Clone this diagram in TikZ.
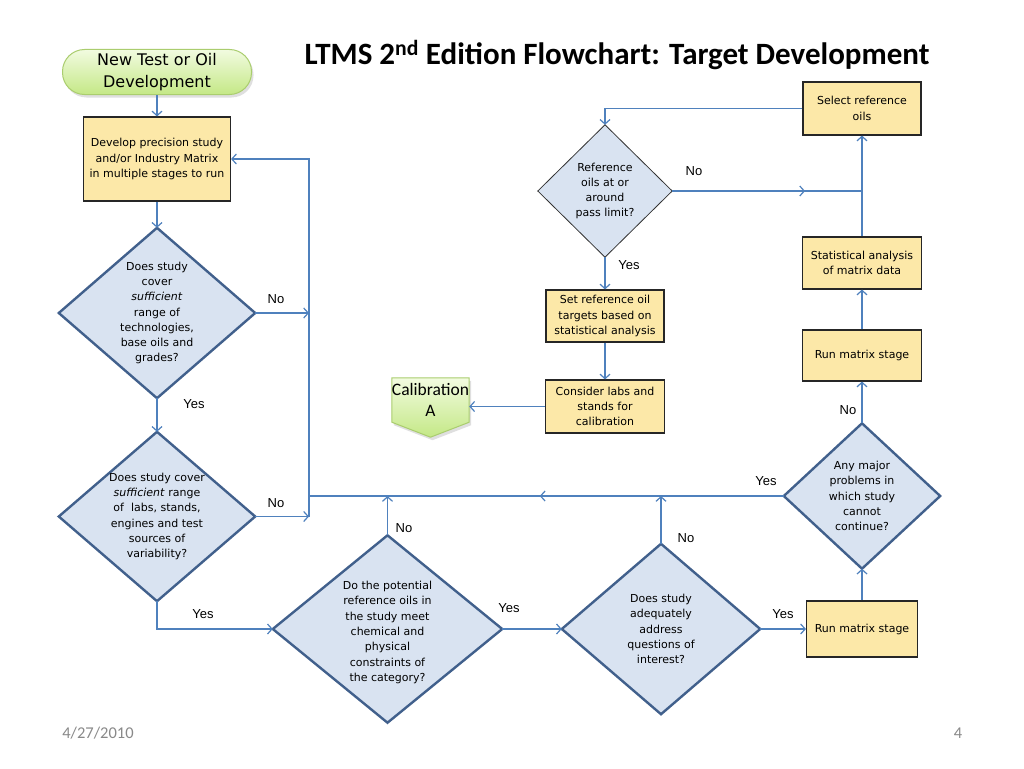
\documentclass[tikz,border=0pt]{standalone}
\usepackage{fontspec}
\setmainfont{DejaVu Sans}
\newfontfamily\labfont{Liberation Sans}
\newfontfamily\calfont{Carlito}
\usetikzlibrary{arrows.meta,backgrounds,decorations.markings,shadows,calc}
\definecolor{arr}{RGB}{79,129,189}
\definecolor{boxfill}{RGB}{252,232,168}
\definecolor{diafill}{RGB}{217,227,241}
\definecolor{diaedge}{RGB}{65,96,140}
\definecolor{greenedge}{RGB}{170,205,110}
\definecolor{greentop}{RGB}{242,251,224}
\definecolor{greenbot}{RGB}{196,232,134}
\definecolor{footgray}{RGB}{137,137,137}
\begin{document}
\begin{tikzpicture}[x=1pt,y=-1pt,
  txt/.style={font=\fontsize{11}{15.3}\selectfont, align=center, inner sep=0pt},
  procbox/.style={txt, draw=black!85, line width=1.1pt, fill=boxfill},
  dtext/.style={txt},
  lab/.style={font=\labfont\fontsize{13}{15}\selectfont, inner sep=0pt},
  flowline/.style={draw=arr, line width=1.2pt},
  flow/.style={flowline, -{Straight Barb[length=4.5pt,width=10pt]}},
  midarrow/.style={postaction={decorate}, decoration={markings,
     mark=at position #1 with {\arrow[arr,line width=1.2pt]{Straight Barb[length=4.5pt,width=10pt]}}}}
]
\useasboundingbox (0,0) rectangle (1024,768);

% title and footer
\node[inner sep=0pt] (title) at (617,55) {\calfont\bfseries\fontsize{31}{34}\selectfont LTMS 2\textsuperscript{nd} Edition Flowchart: Target Development};
\node[inner sep=0pt, text=footgray] (date) at (98,733) {\calfont\fontsize{16.5}{18}\selectfont 4/27/2010};
\node[inner sep=0pt, text=footgray] (page) at (958,733) {\calfont\fontsize{16.5}{18}\selectfont 4};

% start
\node[draw=greenedge, line width=1pt, top color=greentop, bottom color=greenbot,
      rounded corners=22pt, minimum width=189pt, minimum height=45pt, align=center, inner sep=0pt,
      font=\fontsize{16}{22.5}\selectfont,
      drop shadow={opacity=0.25, shadow xshift=2pt, shadow yshift=-3pt}] (start) at (157,72)
      {New Test or Oil\\Development};

% left column
\node[procbox, minimum width=147pt, minimum height=84pt] (box1) at (157,159)
  {Develop precision study\\and/or Industry Matrix\\in multiple stages to run};
\node[dtext, minimum width=196pt, minimum height=170pt] (d1) at (157,313)
  {Does study\\cover\\\textit{sufficient}\\range of\\technologies,\\base oils and\\grades?};
\node[dtext, minimum width=196pt, minimum height=169pt] (d2) at (157,516.5)
  {Does study cover\\\textit{sufficient} range\\of~~labs, stands,\\engines and test\\sources of\\variability?};

% bottom row
\node[dtext, minimum width=229pt, minimum height=187pt] (d3) at (387.5,629)
  {\\Do the potential\\reference oils in\\the study meet\\chemical and\\physical\\constraints of\\the category?};
\node[dtext, minimum width=198pt, minimum height=170pt] (d4) at (661,629)
  {Does study\\adequately\\address\\questions of\\interest?};
\node[procbox, minimum width=111pt, minimum height=56pt] (rms1) at (862,629) {Run matrix stage};

% right column
\node[dtext, minimum width=156pt, minimum height=145pt] (d5) at (862,496)
  {Any major\\problems in\\which study\\cannot\\continue?};
\node[procbox, minimum width=119pt, minimum height=51pt] (rms2) at (862,355.5) {Run matrix stage};
\node[procbox, minimum width=119pt, minimum height=52pt] (stat) at (862,263)
  {Statistical analysis\\of matrix data};
\node[procbox, minimum width=118pt, minimum height=53pt] (sel) at (862,108.5)
  {Select reference\\oils};

% middle column
\node[dtext, minimum width=134pt, minimum height=132pt] (d6) at (605,191)
  {Reference\\oils at or\\around\\pass limit?};
\node[procbox, minimum width=118pt, minimum height=52pt] (setref) at (605,316)
  {Set reference oil\\targets based on\\statistical analysis};
\node[procbox, minimum width=119pt, minimum height=53pt] (cons) at (605,406.5)
  {Consider labs and\\stands for\\calibration};
\node[align=center, inner sep=0pt, minimum width=77pt, minimum height=44pt,
      font=\calfont\fontsize{17.5}{21}\selectfont] (calib) at (430.5,400) {Calibration\\A};

% backgrounds: page, diamonds, off-page connector
\begin{scope}[on background layer]
  \fill[white] (0,0) rectangle (1024,768);
  \foreach \n in {d1,d2,d3,d4,d5}
    \draw[draw=diaedge, line width=2.4pt, fill=diafill, line join=miter]
      (\n.north) -- (\n.east) -- (\n.south) -- (\n.west) -- cycle;
  \draw[draw=black!80, line width=0.8pt, fill=diafill]
      (d6.north) -- (d6.east) -- (d6.south) -- (d6.west) -- cycle;
  \draw[draw=greenedge, line width=1pt, top color=greentop, bottom color=greenbot,
        drop shadow={opacity=0.25, shadow xshift=2pt, shadow yshift=-3pt}]
      (calib.north west) -- (calib.north east) -- (calib.south east)
      -- ($(calib.south)+(0,15)$) -- (calib.south west) -- cycle;
\end{scope}

% labels
\node[lab] (n1) at (276,299) {No};
\node[lab] (y1) at (194,404) {Yes};
\node[lab] (n2) at (276,503) {No};
\node[lab] (y2) at (203,614) {Yes};
\node[lab] (n3) at (404,528) {No};
\node[lab] (y3) at (509,608) {Yes};
\node[lab] (n4) at (686,538) {No};
\node[lab] (y4) at (783,614) {Yes};
\node[lab] (y5) at (766,481) {Yes};
\node[lab] (n5) at (848,410) {No};
\node[lab] (n6) at (694,171) {No};
\node[lab] (y6) at (629,265) {Yes};

% connectors
\coordinate (vr1) at (309,313);
\coordinate (vr2) at (309,516.5);
\coordinate (hl) at (309,496);
\draw[flow] (start.south) -- (box1.north);
\draw[flow] (box1.south) -- (d1.north);
\draw[flow] (d1.east) -- (vr1);
\draw[flow] (d2.east) -- (vr2);
\draw[flow] (vr2) |- (box1.east);
\draw[flow] (d1.south) -- (d2.north);
\draw[flow] (d2.south) |- (d3.west);
\draw[flowline, midarrow=0.514] (d5.west) -- (hl);
\draw[flow] (d3.north) -- (d3.north |- hl);
\draw[flow] (d4.north) -- (d4.north |- hl);
\draw[flow] (d3.east) -- (d4.west);
\draw[flow] (d4.east) -- (rms1.west);
\draw[flow] (rms1.north) -- (d5.south);
\draw[flow] (d5.north) -- (rms2.south);
\draw[flow] (rms2.north) -- (stat.south);
\draw[flow] (stat.north) -- (sel.south);
\draw[flow] (sel.west) -| (d6.north);
\coordinate (j) at (stat.north |- d6.east);
\draw[flowline, midarrow=0.7] (d6.east) -- (j);
\draw[flow] (d6.south) -- (setref.north);
\draw[flow] (setref.south) -- (cons.north);
\draw[flow] (cons.west) -- (cons.west -| calib.east);
\end{tikzpicture}
\end{document}
